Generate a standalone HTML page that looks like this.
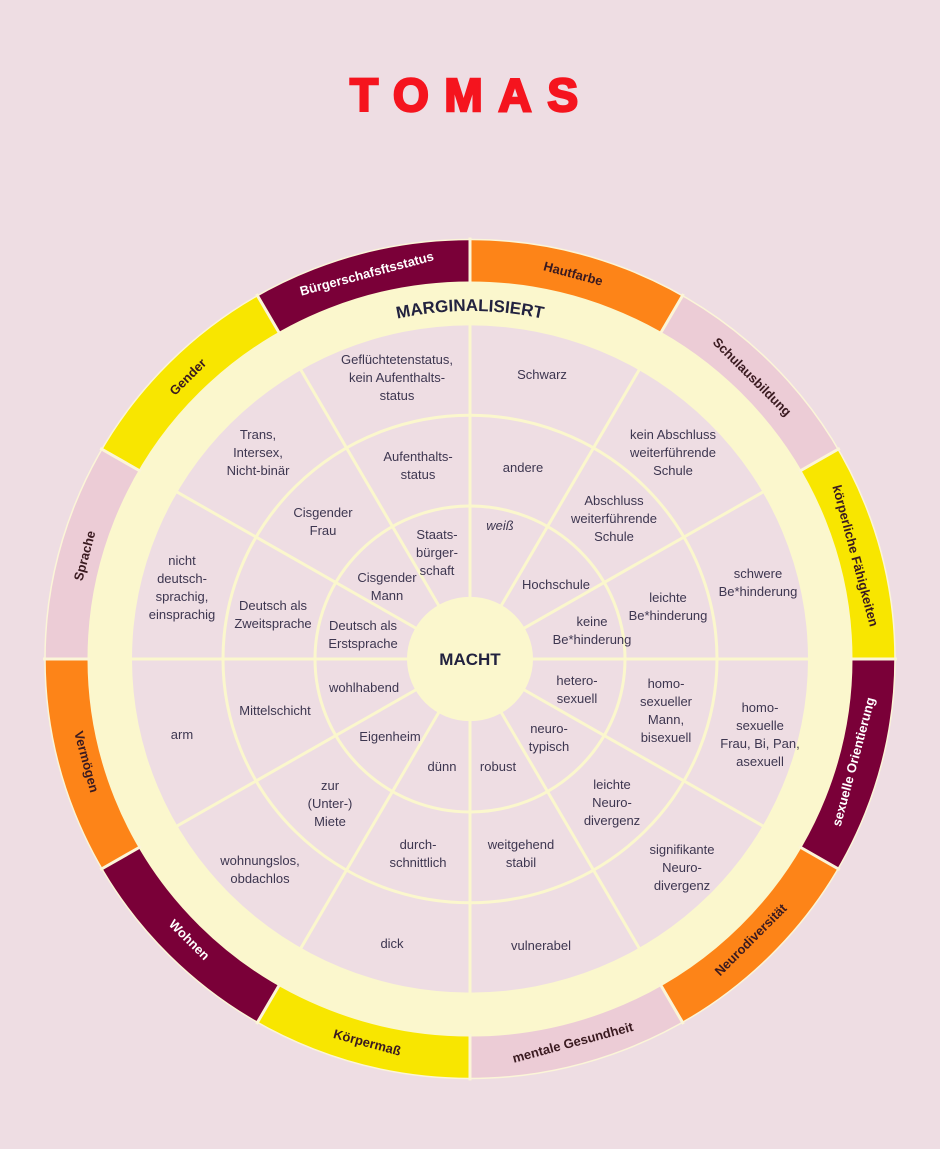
<!DOCTYPE html>
<html><head><meta charset="utf-8"><style>
html,body{margin:0;padding:0;background:#eeded f;}
body{width:940px;height:1149px;background:#eedde3;overflow:hidden}
svg{display:block}
.c{font-family:"Liberation Sans",sans-serif;font-size:13px;fill:#3d3650;text-anchor:middle}
.s{font-family:"Liberation Sans",sans-serif;font-size:13px;font-weight:bold;text-anchor:middle;dominant-baseline:middle}
</style></head><body>
<svg width="940" height="1149" viewBox="0 0 940 1149" xmlns="http://www.w3.org/2000/svg">
<rect width="940" height="1149" fill="#eedde3"/>
<text x="464" y="111" font-family="Liberation Sans,sans-serif" font-weight="bold" font-size="46" fill="#f5141e" stroke="#f5141e" stroke-width="2.5" text-anchor="middle" textLength="228" lengthAdjust="spacing">TOMAS</text>
<g transform="translate(470,659) scale(1,0.987)">
 <g transform="rotate(-90)" fill="none" stroke-width="43">
  <circle r="403.5" stroke="#fd8418" stroke-dasharray="211.27 2535.3" stroke-dashoffset="0"/>
  <circle r="403.5" stroke="#ecccd6" stroke-dasharray="211.27 2535.3" stroke-dashoffset="-211.27"/>
  <circle r="403.5" stroke="#f8e600" stroke-dasharray="211.27 2535.3" stroke-dashoffset="-422.55"/>
  <circle r="403.5" stroke="#7a0038" stroke-dasharray="211.27 2535.3" stroke-dashoffset="-633.82"/>
  <circle r="403.5" stroke="#fd8418" stroke-dasharray="211.27 2535.3" stroke-dashoffset="-845.1"/>
  <circle r="403.5" stroke="#ecccd6" stroke-dasharray="211.27 2535.3" stroke-dashoffset="-1056.37"/>
  <circle r="403.5" stroke="#f8e600" stroke-dasharray="211.27 2535.3" stroke-dashoffset="-1267.65"/>
  <circle r="403.5" stroke="#7a0038" stroke-dasharray="211.27 2535.3" stroke-dashoffset="-1478.92"/>
  <circle r="403.5" stroke="#fd8418" stroke-dasharray="211.27 2535.3" stroke-dashoffset="-1690.2"/>
  <circle r="403.5" stroke="#ecccd6" stroke-dasharray="211.27 2535.3" stroke-dashoffset="-1901.47"/>
  <circle r="403.5" stroke="#f8e600" stroke-dasharray="211.27 2535.3" stroke-dashoffset="-2112.75"/>
  <circle r="403.5" stroke="#7a0038" stroke-dasharray="211.27 2535.3" stroke-dashoffset="-2324.02"/>
 </g>
 <circle r="425" fill="none" stroke="#fbf5d8" stroke-width="1.5"/>
 <circle r="360" fill="none" stroke="#fbf7cd" stroke-width="45"/>
 <circle r="338" fill="#eedde3"/>
 <g stroke="#fbf5d8" stroke-width="3">
  <line x1="0" y1="-380" x2="0" y2="-427"/><line x1="0" y1="380" x2="0" y2="427"/>
  <line x1="380" y1="0" x2="427" y2="0"/><line x1="-380" y1="0" x2="-427" y2="0"/>
  <line x1="190" y1="-329.1" x2="213.5" y2="-369.8"/><line x1="-190" y1="-329.1" x2="-213.5" y2="-369.8"/>
  <line x1="190" y1="329.1" x2="213.5" y2="369.8"/><line x1="-190" y1="329.1" x2="-213.5" y2="369.8"/>
  <line x1="329.1" y1="-190" x2="369.8" y2="-213.5"/><line x1="-329.1" y1="-190" x2="-369.8" y2="-213.5"/>
  <line x1="329.1" y1="190" x2="369.8" y2="213.5"/><line x1="-329.1" y1="190" x2="-369.8" y2="213.5"/>
 </g>
 <g stroke="#fbf7cd" stroke-width="3" fill="none">
  <circle r="155"/><circle r="247"/>
  <line x1="0" y1="-340" x2="0" y2="340"/><line x1="-340" y1="0" x2="340" y2="0"/>
  <line x1="170" y1="-294.4" x2="-170" y2="294.4"/><line x1="-170" y1="-294.4" x2="170" y2="294.4"/>
  <line x1="294.4" y1="-170" x2="-294.4" y2="170"/><line x1="-294.4" y1="-170" x2="294.4" y2="170"/>
 </g>
 <circle r="63" fill="#fbf7cd"/>
</g>
<defs><path id="arc" d="M246.3,392.4 A348,348 0 0 1 693.7,392.4"/></defs>
<text font-family="Liberation Sans,sans-serif" font-weight="bold" font-size="17" fill="#22223f" text-anchor="middle"><textPath href="#arc" startOffset="50%">MARGINALISIERT</textPath></text>
<text x="470" y="665" font-family="Liberation Sans,sans-serif" font-weight="bold" font-size="17" fill="#22223f" text-anchor="middle">MACHT</text>
<!-- outer labels -->
<g>
<text class="s" x="470" y="261" fill="#3a1a20" transform="rotate(15 470 659)">Hautfarbe</text>
<text class="s" x="470" y="261" fill="#3a1a20" transform="rotate(45 470 659)">Schulausbildung</text>
<text class="s" x="470" y="261" fill="#3a1a20" transform="rotate(75 470 659)">körperliche Fähigkeiten</text>
<text class="s" x="470" y="1057" fill="#ffffff" transform="rotate(-75 470 659)">sexuelle Orientierung</text>
<text class="s" x="470" y="1057" fill="#3a1a20" transform="rotate(-45 470 659)">Neurodiversität</text>
<text class="s" x="470" y="1057" fill="#3a1a20" transform="rotate(-15 470 659)">mentale Gesundheit</text>
<text class="s" x="470" y="1057" fill="#3a1a20" transform="rotate(15 470 659)">Körpermaß</text>
<text class="s" x="470" y="1057" fill="#ffffff" transform="rotate(45 470 659)">Wohnen</text>
<text class="s" x="470" y="1057" fill="#3a1a20" transform="rotate(75 470 659)">Vermögen</text>
<text class="s" x="470" y="261" fill="#3a1a20" transform="rotate(-75 470 659)">Sprache</text>
<text class="s" x="470" y="261" fill="#3a1a20" transform="rotate(-45 470 659)">Gender</text>
<text class="s" x="470" y="261" fill="#ffffff" transform="rotate(-15 470 659)">Bürgerschafsftsstatus</text>
</g>
<!-- cells -->
<g class="c">
<text class="c" x="542" y="379">Schwarz</text>
<text class="c" x="523" y="472">andere</text>
<text class="c" x="500" y="530" font-style="italic">weiß</text>

<text class="c" x="397" y="364">Geflüchtetenstatus,<tspan x="397" dy="18">kein Aufenthalts-</tspan><tspan x="397" dy="18">status</tspan></text>
<text class="c" x="418" y="461">Aufenthalts-<tspan x="418" dy="18">status</tspan></text>
<text class="c" x="437" y="539">Staats-<tspan x="437" dy="18">bürger-</tspan><tspan x="437" dy="18">schaft</tspan></text>

<text class="c" x="258" y="439">Trans,<tspan x="258" dy="18">Intersex,</tspan><tspan x="258" dy="18">Nicht-binär</tspan></text>
<text class="c" x="323" y="517">Cisgender<tspan x="323" dy="18">Frau</tspan></text>
<text class="c" x="387" y="582">Cisgender<tspan x="387" dy="18">Mann</tspan></text>

<text class="c" x="182" y="565">nicht<tspan x="182" dy="18">deutsch-</tspan><tspan x="182" dy="18">sprachig,</tspan><tspan x="182" dy="18">einsprachig</tspan></text>
<text class="c" x="273" y="610">Deutsch als<tspan x="273" dy="18">Zweitsprache</tspan></text>
<text class="c" x="363" y="630">Deutsch als<tspan x="363" dy="18">Erstsprache</tspan></text>

<text class="c" x="182" y="739">arm</text>
<text class="c" x="275" y="715">Mittelschicht</text>
<text class="c" x="364" y="692">wohlhabend</text>

<text class="c" x="260" y="865">wohnungslos,<tspan x="260" dy="18">obdachlos</tspan></text>
<text class="c" x="330" y="790">zur<tspan x="330" dy="18">(Unter-)</tspan><tspan x="330" dy="18">Miete</tspan></text>
<text class="c" x="390" y="741">Eigenheim</text>

<text class="c" x="392" y="948">dick</text>
<text class="c" x="418" y="849">durch-<tspan x="418" dy="18">schnittlich</tspan></text>
<text class="c" x="442" y="771">dünn</text>

<text class="c" x="541" y="950">vulnerabel</text>
<text class="c" x="521" y="849">weitgehend<tspan x="521" dy="18">stabil</tspan></text>
<text class="c" x="498" y="771">robust</text>

<text class="c" x="682" y="854">signifikante<tspan x="682" dy="18">Neuro-</tspan><tspan x="682" dy="18">divergenz</tspan></text>
<text class="c" x="612" y="789">leichte<tspan x="612" dy="18">Neuro-</tspan><tspan x="612" dy="18">divergenz</tspan></text>
<text class="c" x="549" y="733">neuro-<tspan x="549" dy="18">typisch</tspan></text>

<text class="c" x="760" y="712">homo-<tspan x="760" dy="18">sexuelle</tspan><tspan x="760" dy="18">Frau, Bi, Pan,</tspan><tspan x="760" dy="18">asexuell</tspan></text>
<text class="c" x="666" y="688">homo-<tspan x="666" dy="18">sexueller</tspan><tspan x="666" dy="18">Mann,</tspan><tspan x="666" dy="18">bisexuell</tspan></text>
<text class="c" x="577" y="685">hetero-<tspan x="577" dy="18">sexuell</tspan></text>

<text class="c" x="758" y="578">schwere<tspan x="758" dy="18">Be*hinderung</tspan></text>
<text class="c" x="668" y="602">leichte<tspan x="668" dy="18">Be*hinderung</tspan></text>
<text class="c" x="592" y="626">keine<tspan x="592" dy="18">Be*hinderung</tspan></text>

<text class="c" x="673" y="439">kein Abschluss<tspan x="673" dy="18">weiterführende</tspan><tspan x="673" dy="18">Schule</tspan></text>
<text class="c" x="614" y="505">Abschluss<tspan x="614" dy="18">weiterführende</tspan><tspan x="614" dy="18">Schule</tspan></text>
<text class="c" x="556" y="589">Hochschule</text>
</g>
</svg>
</body></html>
